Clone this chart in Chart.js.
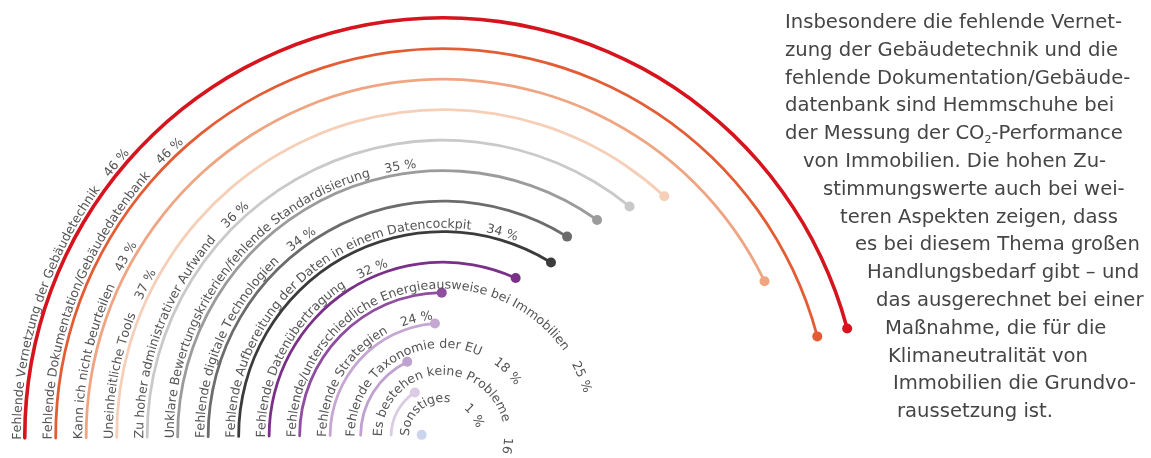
<!DOCTYPE html>
<html lang="de">
<head>
<meta charset="utf-8">
<script src="https://cdn.jsdelivr.net/npm/chart.js@4/dist/chart.umd.min.js"></script>
<style>
  html, body { margin: 0; padding: 0; background: #fff; }
  body { width: 1151px; height: 458px; overflow: hidden; position: relative; }
  #chart { position: absolute; left: -17px; top: -24px; }
  .note { position: absolute; left: 0; top: 8px; font-family: "DejaVu Sans", sans-serif;
    font-size: 19.6px; line-height: 27.8px; color: #454545; white-space: nowrap; }
  .note div { position: relative; }
  .note sub { font-size: 11px; vertical-align: -4px; line-height: 0; }
</style>
</head>
<body>
<canvas id="chart" width="920" height="920"></canvas>
<div class="note" id="note"></div>
<script>
// answers, outer ring first
const labels = [
  "Fehlende Vernetzung der Gebäudetechnik",
  "Fehlende Dokumentation/Gebäudedatenbank",
  "Kann ich nicht beurteilen",
  "Uneinheitliche Tools",
  "Zu hoher administrativer Aufwand",
  "Unklare Bewertungskriterien/fehlende Standardisierung",
  "Fehlende digitale Technologien",
  "Fehlende Aufbereitung der Daten in einem Datencockpit",
  "Fehlende Datenübertragung",
  "Fehlende/unterschiedliche Energieausweise bei Immobilien",
  "Fehlende Strategien",
  "Fehlende Taxonomie der EU",
  "Es bestehen keine Probleme",
  "Sonstiges"
];
const values = [46, 46, 43, 37, 36, 35, 34, 34, 32, 25, 24, 18, 16, 1];
const colors = [
  "#d6141d", "#e45c33", "#f0a582", "#f6cfb9", "#c9c9c9", "#9b9b9b", "#6c6c6c",
  "#3b3b3b", "#7a3089", "#8f4e9f", "#c6a6d3", "#bfa2cf", "#dccbe5", "#cad4ec"
];

const noteLines = [
  ["Insbesondere die fehlende Vernet-", 785],
  ["zung der Gebäudetechnik und die", 785],
  ["fehlende Dokumentation/Gebäude-", 785],
  ["datenbank sind Hemmschuhe bei", 785],
  ["der Messung der CO<sub>2</sub>-Performance", 785],
  ["von Immobilien. Die hohen Zu-", 803],
  ["stimmungswerte auch bei wei-", 823],
  ["teren Aspekten zeigen, dass", 840],
  ["es bei diesem Thema großen", 855],
  ["Handlungsbedarf gibt – und", 867],
  ["das ausgerechnet bei einer", 876],
  ["Maßnahme, die für die", 885],
  ["Klimaneutralität von", 888],
  ["Immobilien die Grundvo-", 893],
  ["raussetzung ist.", 897]
];
const note = document.getElementById("note");
noteLines.forEach(([t, x]) => {
  const d = document.createElement("div");
  d.style.left = x + "px";
  d.innerHTML = t;
  note.appendChild(d);
});

const lineW = 2.8;
const gapW = (400 - lineW * values.length) / (values.length - 1);
const ringIdx = [];
const datasets = [];
values.forEach((v, i) => {
  ringIdx.push(datasets.length);
  datasets.push({
    data: [v, 100 - v],
    backgroundColor: [colors[i], "rgba(0,0,0,0)"],
    borderWidth: 0,
    borderRadius: i === 0 ? 1.8 : 1.4,
    weight: i === 0 ? 3.6 : lineW
  });
  if (i < values.length - 1) {
    datasets.push({
      data: [100],
      backgroundColor: ["rgba(0,0,0,0)"],
      borderWidth: 0,
      weight: gapW
    });
  }
});

function textAlongArc(ctx, text, cx, cy, R, angle) {
  for (const ch of text) {
    const w = ctx.measureText(ch).width;
    const a = angle + (w / 2) / R;
    ctx.save();
    ctx.translate(cx + R * Math.cos(a), cy + R * Math.sin(a));
    ctx.rotate(a + Math.PI / 2);
    ctx.fillText(ch, -w / 2, 0);
    ctx.restore();
    angle += w / R;
  }
  return angle;
}

const arcExtras = {
  id: "arcExtras",
  afterDatasetsDraw(chart) {
    const ctx = chart.ctx;
    ctx.save();
    ctx.font = '12.6px "DejaVu Sans", sans-serif';
    ctx.textBaseline = "alphabetic";
    ringIdx.forEach((di, i) => {
      const arc = chart.getDatasetMeta(di).data[0];
      const p = arc.getProps(["x", "y", "startAngle", "endAngle", "innerRadius", "outerRadius"], true);
      const r = (p.innerRadius + p.outerRadius) / 2;
      // end dot
      ctx.fillStyle = colors[i];
      ctx.beginPath();
      ctx.arc(p.x + r * Math.cos(p.endAngle), p.y + r * Math.sin(p.endAngle), 5, 0, Math.PI * 2);
      ctx.fill();
      // curved label outside the ring, small rings get a bit more room
      ctx.fillStyle = "#555";
      const R = r + (r < 100 ? 4 + (100 - r) / 9 : 4);
      let a = textAlongArc(ctx, labels[i], p.x, p.y, R, p.startAngle);
      a += 15 / R;
      textAlongArc(ctx, values[i] + " %", p.x, p.y, R, a);
    });
    ctx.restore();
  }
};

new Chart(document.getElementById("chart"), {
  type: "doughnut",
  data: { labels: ["Wert", "Rest"], datasets: datasets },
  options: {
    responsive: false,
    animation: false,
    events: [],
    rotation: -90.5,
    circumference: 360,
    radius: 420,
    cutout: 21.9,
    layout: { padding: 0 },
    plugins: { legend: { display: false }, tooltip: { enabled: false } }
  },
  plugins: [arcExtras]
});
</script>
</body>
</html>
